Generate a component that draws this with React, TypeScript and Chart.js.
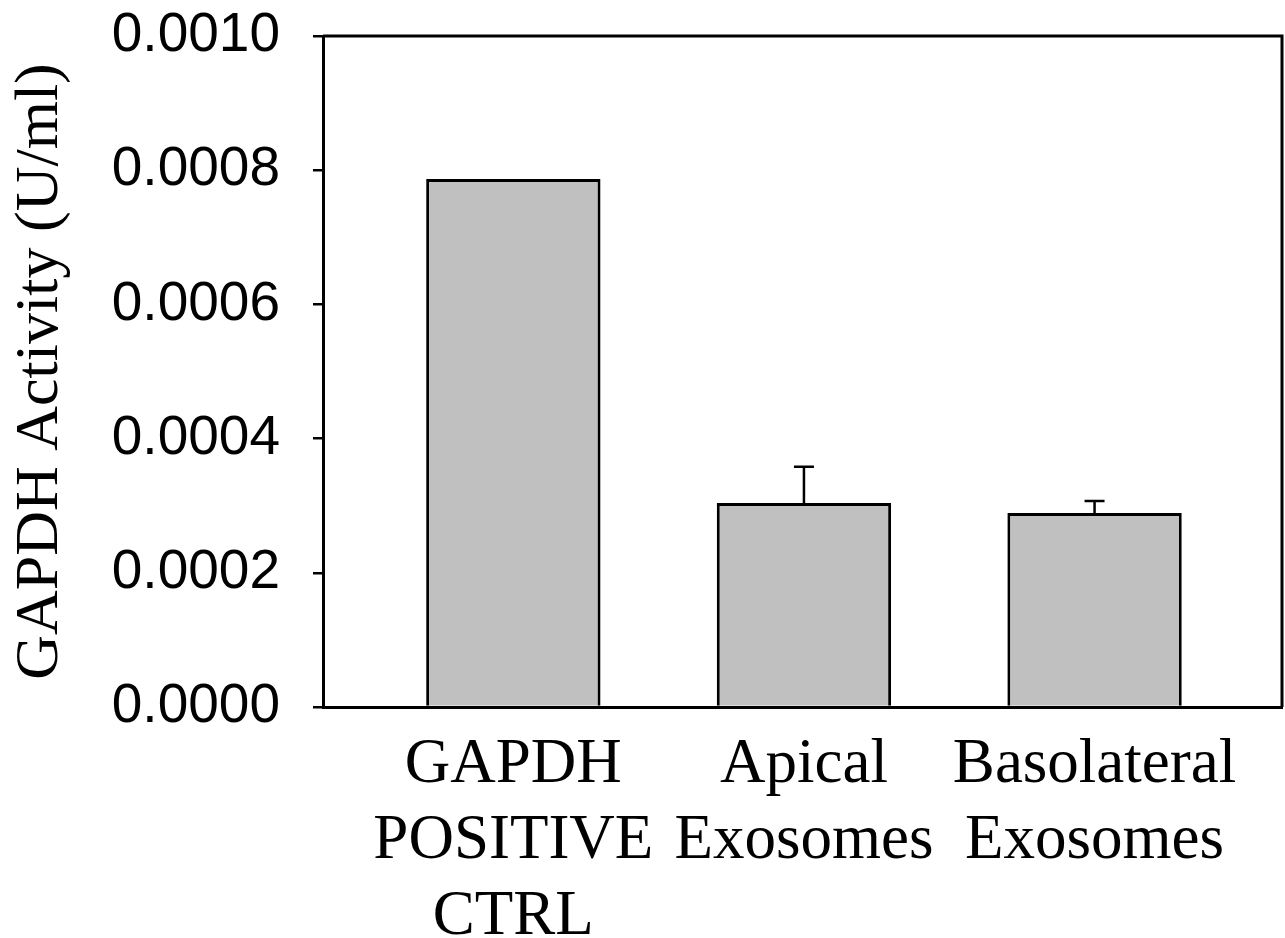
import React, { useEffect, useRef } from "react";
import { Chart, registerables } from "chart.js";

Chart.register(...registerables);

const categories: string[][] = [
  ["GAPDH", "POSITIVE", "CTRL"],
  ["Apical", "Exosomes"],
  ["Basolateral", "Exosomes"],
];
const values: number[] = [0.000787, 0.000304, 0.000289];
const errors: number[] = [0, 0.000054, 0.000018];
const yMin = 0;
const yMax = 0.001;
const yStep = 0.0002;
const yTitle = "GAPDH Activity (U/ml)";

const SERIF = "'Liberation Serif', 'Times New Roman', serif";
const SANS = "'Liberation Sans', Arial, sans-serif";

const framePlugin = {
  id: "frame",
  afterDatasetsDraw(chart: any) {
    const { ctx, chartArea } = chart;
    const yScale = chart.scales.y;
    const meta = chart.getDatasetMeta(0);
    ctx.save();
    ctx.strokeStyle = "#000";
    ctx.lineWidth = 2.5;
    // error bars
    values.forEach((v, i) => {
      const e = errors[i];
      if (!e) return;
      const el = meta.data[i];
      const x = el.x;
      const yBase = yScale.getPixelForValue(v);
      const yTop = yScale.getPixelForValue(v + e);
      ctx.beginPath();
      ctx.moveTo(x, yBase);
      ctx.lineTo(x, yTop);
      ctx.moveTo(x - 10, yTop);
      ctx.lineTo(x + 10, yTop);
      ctx.stroke();
    });
    // top and right frame
    ctx.lineWidth = 3;
    ctx.beginPath();
    ctx.moveTo(chartArea.left, chartArea.top);
    ctx.lineTo(chartArea.right, chartArea.top);
    ctx.lineTo(chartArea.right, chartArea.bottom);
    ctx.stroke();
    ctx.restore();
  },
};

export default function App() {
  const ref = useRef<HTMLCanvasElement | null>(null);
  useEffect(() => {
    if (!ref.current) return;
    const chart = new Chart(ref.current, {
      type: "bar",
      data: {
        datasets: [
          {
            data: values.map((v, i) => ({ x: i, y: v })),
            backgroundColor: "#c0c0c0",
            borderColor: "#000",
            borderWidth: 3,
            barPercentage: 0.6,
            categoryPercentage: 1,
          },
        ],
      },
      options: {
        animation: false,
        responsive: false,
        layout: { padding: { top: 36, right: 3, bottom: 0, left: 0 } },
        plugins: { legend: { display: false }, tooltip: { enabled: false } },
        scales: {
          x: {
            type: "linear",
            min: -0.655,
            max: 2.645,
            offset: false,
            afterBuildTicks: (scale: any) => {
              scale.ticks = categories.map((_, i) => ({ value: i }));
            },
            afterFit: (scale: any) => {
              scale.height = 938 - 707;
              scale.paddingTop = 0;
              scale.paddingBottom = 0;
            },
            grid: { display: false, drawTicks: false },
            border: { display: true, color: "#000", width: 3 },
            ticks: {
              color: "#000",
              padding: 21,
              maxRotation: 0,
              autoSkip: false,
              font: { family: SERIF, size: 63, lineHeight: 1.2 },
              callback: (v: any) => categories[Math.round(Number(v))] ?? "",
            },
          },
          y: {
            min: yMin,
            max: yMax,
            afterFit: (scale: any) => {
              scale.width = 323;
              scale.paddingTop = 0;
              scale.paddingBottom = 0;
            },
            grid: {
              display: true,
              drawOnChartArea: false,
              drawTicks: true,
              tickLength: 10,
              color: "#000",
              lineWidth: 2.5,
            },
            border: { display: true, color: "#000", width: 3 },
            ticks: {
              stepSize: yStep,
              color: "#000",
              padding: 33,
              font: { family: SANS, size: 55 },
              callback: (v: any) => Number(v).toFixed(4),
            },
            title: {
              display: true,
              text: yTitle,
              color: "#000",
              padding: { top: 4, bottom: 0 },
              font: { family: SERIF, size: 62 },
            },
          },
        },
      },
      plugins: [framePlugin],
    } as any);
    return () => chart.destroy();
  }, []);
  return (
    <canvas
      ref={ref}
      width={1285}
      height={938}
      style={{ position: "absolute", left: 0, top: 0, width: 1285, height: 938 }}
    />
  );
}
